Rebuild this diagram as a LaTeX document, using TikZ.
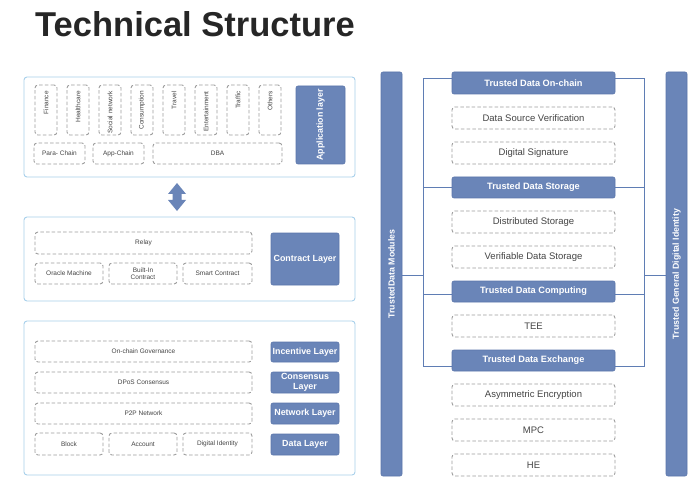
\documentclass[tikz,border=0pt]{standalone}
\usepackage{fontspec}
\setmainfont{Liberation Sans}
\definecolor{bluefill}{HTML}{6A85B8}
\definecolor{blueedge}{HTML}{5B76AA}
\definecolor{panelc}{HTML}{A8D0EB}
\definecolor{dashgray}{HTML}{9E9E9E}
\definecolor{txtgray}{HTML}{444444}
\definecolor{frameblue}{HTML}{5F7DB4}
\newcommand{\rbox}[7]{\node[#2,minimum width={(#5-#3)*1pt},minimum height={(#6-#4)*1pt}] (#1) at ({(#3+#5)/2},{(#4+#6)/2}) {#7};}
\tikzset{
  panelbox/.style={draw=panelc, line width=0.9pt, rounded corners=3pt, inner sep=0pt},
  dbox/.style={draw=dashgray, dash pattern=on 3.5pt off 2.2pt, line width=0.9pt, rounded corners=3pt, inner sep=0pt, text=txtgray, font=\fontsize{6.5}{7.5}\selectfont, align=center},
  rdbox/.style={dbox, font=\fontsize{9.5}{11}\selectfont},
  bbox/.style={fill=bluefill, draw=blueedge, line width=0.6pt, rounded corners=2pt, inner sep=0pt, text=white, font=\bfseries\fontsize{8.9}{10}\selectfont, align=center},
  rbbox/.style={bbox, font=\bfseries\fontsize{9.2}{10.5}\selectfont},
  smallv/.style={rotate=90, anchor=east, inner sep=0pt, text=txtgray, font=\fontsize{6.5}{7.5}\selectfont},
  wlabel/.style={rotate=90, inner sep=0pt, text=white, font=\bfseries\fontsize{8.8}{10}\selectfont},
  frame/.style={draw=frameblue, line width=0.9pt},
}
\begin{document}
\begin{tikzpicture}[x=1pt,y=-1pt]
\useasboundingbox[fill=white] (0,0) rectangle (700,494);
\node[anchor=base west, font=\bfseries\fontsize{34.5}{40}\selectfont, inner sep=0pt, text=black!85] (title) at (35,37) {Technical Structure};

% ---------- Application panel ----------
\rbox{p1}{panelbox}{24}{77}{355}{177}{}
\foreach \x/\t [count=\i] in {35/Finance,67/Healthcare,99/Social network,131/Consumption,163/Travel,195/Entertainment,227/Traffic,259/Others}{
  \rbox{v\i}{dbox}{\x}{85}{\x+22}{135}{}
  \node[smallv] (vt\i) at ({\x+11},91) {\t};
}
\rbox{para}{dbox}{34}{143}{85}{164}{Para- Chain}
\rbox{appc}{dbox}{93}{143}{144}{164}{App-Chain}
\rbox{dba}{dbox}{153}{143}{282}{164}{DBA}
\rbox{appl}{bbox}{296}{86}{345}{164}{}
\node[wlabel] (applt) at (appl.center) {Application layer};

% ---------- double arrow ----------
\coordinate (ar) at (177,197);
\fill[bluefill] (177,183) -- (186,194) -- (181.5,194) -- (181.5,200) -- (186,200) -- (177,211) -- (168,200) -- (172.5,200) -- (172.5,194) -- (168,194) -- cycle;

% ---------- Contract panel ----------
\rbox{p2}{panelbox}{24}{217}{355}{301}{}
\rbox{relay}{dbox}{35}{232}{252}{254}{Relay}
\rbox{oracle}{dbox}{35}{263}{103}{284}{Oracle Machine}
\rbox{builtin}{dbox}{109}{263}{177}{284}{Built-In\\Contract}
\rbox{smart}{dbox}{183}{263}{252}{284}{Smart Contract}
\rbox{contract}{bbox}{271}{233}{339}{285}{Contract Layer}

% ---------- Base panel ----------
\rbox{p3}{panelbox}{24}{321}{355}{475}{}
\rbox{gov}{dbox}{35}{341}{252}{362}{On-chain Governance}
\rbox{dpos}{dbox}{35}{372}{252}{393}{DPoS Consensus}
\rbox{p2p}{dbox}{35}{403}{252}{424}{P2P Network}
\rbox{block}{dbox}{35}{433}{103}{455}{Block}
\rbox{account}{dbox}{109}{433}{177}{455}{Account}
\rbox{did}{dbox}{183}{433}{252}{455}{Digital Identity}
\rbox{incent}{bbox}{271}{342}{339}{362}{Incentive Layer}
\rbox{consl}{bbox}{271}{372}{339}{393}{Consensus\\Layer}
\rbox{netl}{bbox}{271}{403}{339}{424}{Network Layer}
\rbox{datal}{bbox}{271}{434}{339}{455}{Data Layer}

% ---------- Right section ----------
\rbox{barL}{bbox}{381}{72}{402}{476}{}
\node[wlabel] (barLt) at (barL.center) {TrustedData Modules};
\rbox{barR}{bbox}{666}{72}{687}{476}{}
\node[wlabel] (barRt) at (barR.center) {Trusted General Digital Identity};

\coordinate (fTL) at (423,78);
\coordinate (fBR) at (644,366);
\coordinate (f1L) at (423,187);
\coordinate (f1R) at (644,187);
\coordinate (f2L) at (423,294);
\coordinate (f2R) at (644,294);
\coordinate (cL) at (423,275);
\coordinate (cR) at (644,275);
\draw[frame] (fTL) rectangle (fBR);
\draw[frame] (f1L) -- (f1R);
\draw[frame] (f2L) -- (f2R);
\draw[frame] (barL.east |- cL) -- (cL);
\draw[frame] (cR) -- (barR.west |- cR);

\rbox{onchain}{rbbox}{452}{72}{615}{94}{Trusted Data On-chain}
\rbox{dsv}{rdbox}{452}{107}{615}{129}{Data Source Verification}
\rbox{dsig}{rdbox}{452}{142}{615}{164}{Digital Signature}
\rbox{storage}{rbbox}{452}{177}{615}{198}{Trusted Data Storage}
\rbox{dstor}{rdbox}{452}{211}{615}{233}{Distributed Storage}
\rbox{vds}{rdbox}{452}{246}{615}{268}{Verifiable Data Storage}
\rbox{comp}{rbbox}{452}{281}{615}{302}{Trusted Data Computing}
\rbox{tee}{rdbox}{452}{315}{615}{337}{TEE}
\rbox{exch}{rbbox}{452}{350}{615}{371}{Trusted Data Exchange}
\rbox{asym}{rdbox}{452}{384}{615}{406}{Asymmetric Encryption}
\rbox{mpc}{rdbox}{452}{419}{615}{441}{MPC}
\rbox{he}{rdbox}{452}{454}{615}{476}{HE}
\end{tikzpicture}
\end{document}
